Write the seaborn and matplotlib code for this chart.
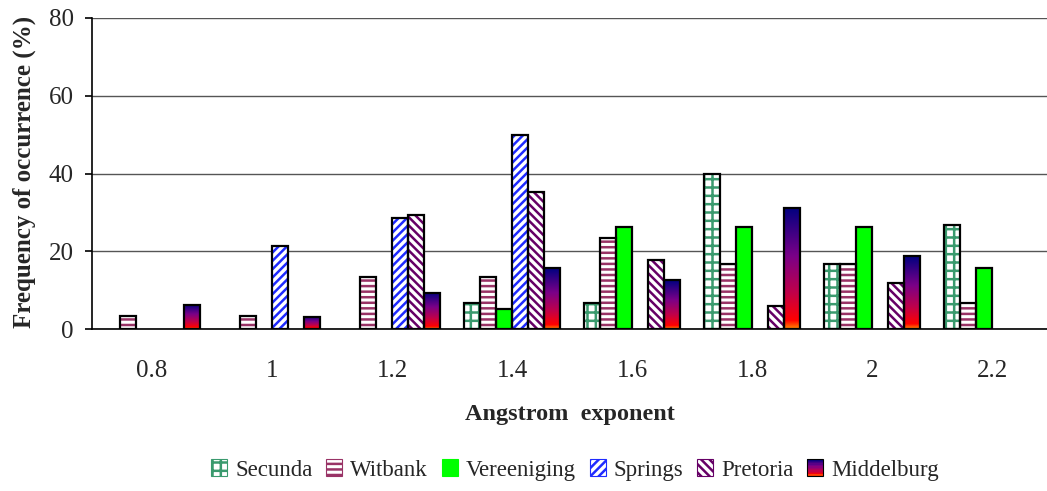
import numpy as np
import pandas as pd
import matplotlib
matplotlib.use("Agg")
import matplotlib.pyplot as plt
from matplotlib.colors import LinearSegmentedColormap
from matplotlib.patches import Patch, Rectangle
from matplotlib.legend_handler import HandlerBase
import seaborn as sns

categories = ['0.8', '1', '1.2', '1.4', '1.6', '1.8', '2', '2.2']
cities = ['Secunda', 'Witbank', 'Vereeniging', 'Springs', 'Pretoria', 'Middelburg']
secunda = [0, 0, 0, 6.67, 6.67, 40.0, 16.67, 26.67]
witbank = [3.33, 3.33, 13.33, 13.33, 23.33, 16.67, 16.67, 6.67]
vereeniging = [0, 0, 0, 5.26, 26.32, 26.32, 26.32, 15.79]
springs = [0, 21.43, 28.57, 50.0, 0, 0, 0, 0]
pretoria = [0, 0, 29.41, 35.29, 17.65, 5.88, 11.76, 0]
middelburg = [6.25, 3.125, 9.375, 15.625, 12.5, 31.25, 18.75, 0]
y_ticks = [0, 20, 40, 60, 80]

series = [secunda, witbank, vereeniging, springs, pretoria, middelburg]
rows = []
for city, vals in zip(cities, series):
    for cat, v in zip(categories, vals):
        rows.append({'cat': cat, 'city': city, 'val': v})
df = pd.DataFrame(rows)

sns.set_style('white')
plt.rcParams['font.family'] = ['Liberation Serif', 'DejaVu Serif']
plt.rcParams['hatch.linewidth'] = 1.8

fig = plt.figure(figsize=(10.47, 4.91), dpi=100)
ax = fig.add_axes([92/1047, 1-329/491, 1-92/1047, (329-18)/491])

sns.barplot(data=df, x='cat', y='val', hue='city', order=categories,
            hue_order=cities, ax=ax, width=0.8, legend=False, errorbar=None)

styles = {
    'Secunda': dict(face='white', hatch='++', hc='#3a9a6e'),
    'Witbank': dict(face='white', hatch='---', hc='#993366'),
    'Vereeniging': dict(face='#00ff00', hatch=None, hc='#00ff00'),
    'Springs': dict(face='white', hatch='////', hc='#1f2bff'),
    'Pretoria': dict(face='white', hatch='\\\\\\\\', hc='#660066'),
    'Middelburg': dict(face='#800060', hatch=None, hc='#800060'),
}

grad = LinearSegmentedColormap.from_list(
    'mid', [(0.0, '#ff8c00'), (0.07, '#ff0000'), (0.3, '#c0004a'),
            (0.6, '#7a0088'), (1.0, '#000080')])

for city, cont in zip(cities, ax.containers):
    st = styles[city]
    for p in cont:
        x, y0 = p.get_x(), p.get_y()
        w, h = p.get_width(), p.get_height()
        p.set_facecolor(st['face'])
        p.set_edgecolor(st['hc'])
        p.set_linewidth(0)
        if st['hatch']:
            p.set_hatch(st['hatch'])
        if h <= 0:
            p.set_visible(False)
            continue
        if city == 'Middelburg':
            g = np.linspace(0, 1, 256).reshape(-1, 1)
            im = ax.imshow(g, extent=[x, x + w, y0, y0 + h], origin='lower',
                           cmap=grad, aspect='auto', zorder=2.5)
            im.set_clip_path(p)
        ax.add_patch(Rectangle((x, y0), w, h, fill=False, edgecolor='black',
                               linewidth=1.6, zorder=3))

ax.set_xlim(-0.5, 7.5 - 5/120)
ax.set_ylim(0, 80)
ax.set_yticks(y_ticks)
ax.yaxis.grid(True, color='#555555', linewidth=1.0)
ax.set_axisbelow(True)
for s in ['top', 'right']:
    ax.spines[s].set_visible(False)
ax.spines['left'].set_color('black')
ax.spines['bottom'].set_color('black')
ax.spines['left'].set_linewidth(1.2)
ax.spines['bottom'].set_linewidth(1.2)

ax.set_xticks(range(len(categories)))
ax.set_xticklabels(categories)
ax.set_xticks(np.arange(0.5, 7.5, 1), minor=True)
ax.tick_params(axis='x', which='major', length=0, pad=22, labelsize=18)
ax.tick_params(axis='x', which='minor', length=6, width=1.2, color='black', direction='out')
ax.tick_params(axis='y', length=5, width=1.2, color='black', direction='out',
               labelsize=18, pad=8, left=True)

ax.set_xlabel('Angstrom  exponent', fontsize=17.5, fontweight='bold')
ax.xaxis.set_label_coords(0.5, -0.24)
ax.set_ylabel('')
fig.text(24/1047, 1-328/491, 'Frequency of occurrence (%)', rotation=90,
         ha='center', va='bottom', fontsize=18, fontweight='bold')


class HandlerGradient(HandlerBase):
    def create_artists(self, legend, orig_handle, xdescent, ydescent,
                       width, height, fontsize, trans):
        n = 12
        arts = []
        for i in range(n):
            r = Rectangle((-xdescent, -ydescent + height * i / n), width,
                          height / n + 0.2, facecolor=grad((i + 0.5) / n),
                          edgecolor='none', transform=trans)
            arts.append(r)
        arts.append(Rectangle((-xdescent, -ydescent), width, height, fill=False,
                              edgecolor='black', linewidth=0.8, transform=trans))
        return arts


handles = []
for city in cities:
    st = styles[city]
    if city == 'Middelburg':
        handles.append(Patch(facecolor='#8a0050', edgecolor='black', linewidth=0.8))
    else:
        handles.append(Patch(facecolor=st['face'], edgecolor=st['hc'],
                             hatch=st['hatch'], linewidth=0.8))
fig.legend(handles, cities, loc='center', bbox_to_anchor=(575/1047, 1-470/491),
           ncol=6, frameon=False, fontsize=16.5, handlelength=0.7, handleheight=0.7,
           handletextpad=0.35, columnspacing=0.6,
           handler_map={handles[-1]: HandlerGradient()})

fig.savefig('out.png', dpi=100)
